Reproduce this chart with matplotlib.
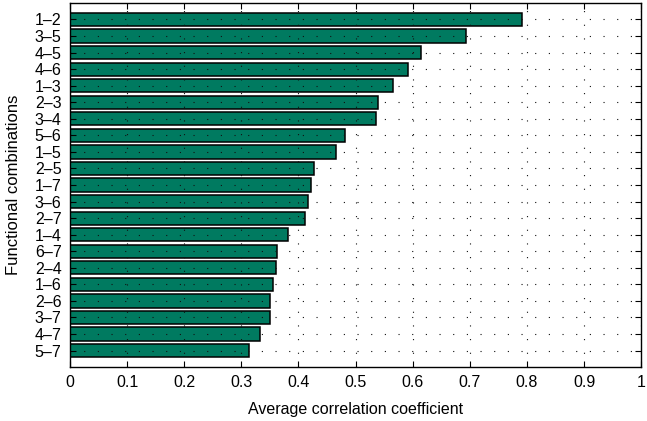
import matplotlib

matplotlib.use("Agg")
import matplotlib.pyplot as plt

plt.rcParams["font.family"] = ["Liberation Sans", "DejaVu Sans"]

combinations = [
    "1\u20132", "3\u20135", "4\u20135", "4\u20136", "1\u20133", "2\u20133",
    "3\u20134", "5\u20136", "1\u20135", "2\u20135", "1\u20137", "3\u20136",
    "2\u20137", "1\u20134", "6\u20137", "2\u20134", "1\u20136", "2\u20136",
    "3\u20137", "4\u20137", "5\u20137",
]
avg_corr = [
    0.791, 0.694, 0.615, 0.591, 0.566, 0.540, 0.536, 0.482, 0.465, 0.427,
    0.422, 0.417, 0.411, 0.381, 0.362, 0.361, 0.356, 0.350, 0.350, 0.332,
    0.314,
]
x_ticks = [0, 0.1, 0.2, 0.3, 0.4, 0.5, 0.6, 0.7, 0.8, 0.9, 1]
x_tick_labels = ["0", "0.1", "0.2", "0.3", "0.4", "0.5", "0.6", "0.7",
                 "0.8", "0.9", "1"]

fig = plt.figure(figsize=(6.47, 4.21), dpi=100)
ax = fig.add_axes([0.108, 0.128, 0.883, 0.865])

n = len(combinations)
positions = list(range(n, 0, -1))
ax.barh(
    positions,
    avg_corr,
    height=0.8,
    color="#007a60",
    edgecolor="black",
    linewidth=1.1,
    zorder=1,
)

ax.set_xlim(0, 1)
ax.set_ylim(0, n + 1)
ax.set_xticks(x_ticks)
ax.set_xticklabels(x_tick_labels)
ax.set_yticks(positions)
ax.set_yticklabels(combinations)

# sparse dotted grid drawn over the bars
ax.grid(True, color="#111111", linestyle=(0, (1, 11.3)), linewidth=0.8,
        zorder=2)
ax.set_axisbelow(False)
ax.tick_params(direction="in", top=True, right=True, labelsize=11.5,
               length=4, width=0.8, pad=6)
for spine in ax.spines.values():
    spine.set_linewidth(1.0)
    spine.set_zorder(3)

ax.set_xlabel("Average correlation coefficient", fontsize=11.5, labelpad=8)
ax.set_ylabel("Functional combinations", fontsize=12, labelpad=10)

fig.savefig("out.png", dpi=100)
